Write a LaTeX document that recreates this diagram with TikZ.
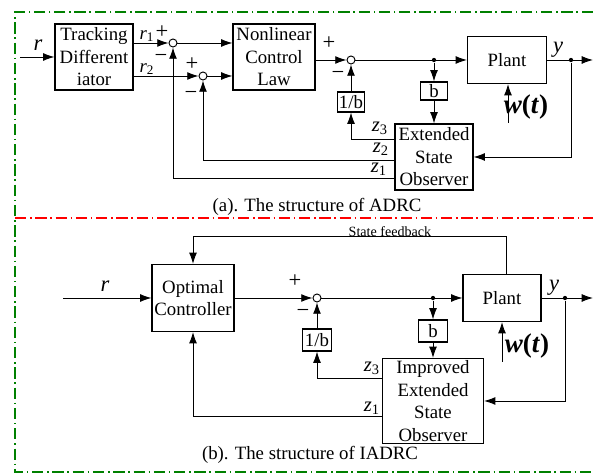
\documentclass[tikz,border=0pt]{standalone}
\usepackage{fontspec}
\setmainfont{Liberation Serif}
\usetikzlibrary{
    calc,
    arrows.meta
}
\begin{document}
\begin{tikzpicture}[x=0.0187cm,y=-0.0187cm,line width=0.5pt,
    >={Latex[length=6pt,width=4.2pt]},
    blk/.style={draw,line width=0.6pt,inner sep=0pt,align=center},
    sumpt/.style={draw,circle,minimum size=0.15cm,inner sep=0pt,fill=white},
    dotpt/.style={circle,fill,minimum size=0.08cm,inner sep=0pt},
    lbl/.style={font=\large\itshape,inner sep=0pt},
    zlbl/.style={font=\fontsize{11}{12}\selectfont\itshape,inner sep=0pt},
    sublbl/.style={font=\itshape,inner sep=0pt},
    sgn/.style={font=\large,inner sep=0pt},
    frame/.style={line width=0.9pt,dash pattern=on 6pt off 2pt on 0.8pt off 2pt}]
\useasboundingbox (0,0) rectangle (593,473);
%\draw [help lines](0,0) grid (593,473);
\draw [frame,green!50!black] (593,12) -- (15,12) -- (15,472) -- (593,472);
\draw [frame,red] (15,218) -- (593,218);
% (a) ADRC
\coordinate (rin) at (20,57);
\node [lbl] (rA) at (38,45) {r};
\node [blk,minimum width=1.459cm,minimum height=1.234cm] (td) at (94,57) {Tracking\\Different\\iator};
\node [sumpt] (s1) at (173,43) {};
\node [sumpt] (s2) at (203,76) {};
\node [blk,minimum width=1.533cm,minimum height=1.234cm] (ncl) at (274,57) {Nonlinear\\Control\\Law};
\node [sumpt] (s3) at (351,60) {};
\node [dotpt] (d1) at (434,60) {};
\node [blk,minimum width=1.477cm,minimum height=0.879cm] (plA) at (507,60) {Plant};
\node [dotpt] (o1) at (571,60) {};
\coordinate (yA) at (593,60);
\node [blk,minimum width=0.505cm,minimum height=0.337cm] (bA) at (434,91) {b};
\node [blk,minimum width=0.505cm,minimum height=0.374cm] (ibA) at (351,102) {1/b};
\node [blk,minimum width=1.459cm,minimum height=1.234cm] (eso) at (434,157) {Extended\\State\\Observer};
\coordinate (wA) at (508,123);
\draw [->] (rin) -- (td);
\draw [->] (td.east |- s1) -- (s1);
\draw [->] (td.east |- s2) -- (s2);
\draw [->] (s1) -- (s1 -| ncl.west);
\draw [->] (s2) -- (s2 -| ncl.west);
\draw [->] (ncl.east |- s3) -- (s3);
\draw [->] (s3) -- (plA);
\draw [->] (plA) -- (yA);
\draw [->] (d1) -- (bA);
\draw [->] (bA) -- (eso);
\draw [->] (ibA) -- (s3);
\draw [->] (eso.west |- 0,139) -| (ibA);
\draw [->] (eso.west |- 0,160) -| (s2);
\draw [->] (eso.west |- 0,178) -| (s1);
\draw [->] (o1) |- (eso);
\draw [->] (wA) -- (wA |- plA.south);
\node [sublbl] (r1) at (147,36) {r\textsubscript{\upshape 1}};
\node [sublbl] (r2) at (147,69) {r\textsubscript{\upshape 2}};
\node [sgn] (p1) at (162,32) {+};
\node [sgn] (m1) at (161,58) {−};
\node [sgn] (p2) at (192,64) {+};
\node [sgn] (m2) at (191,95) {−};
\node [sgn] (p3) at (329,43) {+};
\node [sgn] (m3) at (338,75) {−};
\node [lbl] (yAl) at (558,50) {y};
\node [inner sep=0pt,font=\Large\bfseries] (wAl) at (526,107) {\textit{w}(\textit{t})};
\node [zlbl] (z3A) at (380,128) {z\textsubscript{\upshape 3}};
\node [zlbl] (z2A) at (381,149) {z\textsubscript{\upshape 2}};
\node [zlbl] (z1A) at (379,169) {z\textsubscript{\upshape 1}};
\node [inner sep=0pt] (capA) at (317,207) {(a). The structure of ADRC};
% (b) IADRC
\coordinate (rinB) at (63,298);
\node [lbl] (rB) at (105,286) {r};
\node [blk,minimum width=1.533cm,minimum height=1.253cm] (oc) at (193,298) {Optimal\\Controller};
\node [sumpt] (s4) at (317,298) {};
\node [dotpt] (d2) at (433,298) {};
\node [blk,minimum width=1.459cm,minimum height=0.879cm] (plB) at (502,298) {Plant};
\node [dotpt] (o2) at (565,298) {};
\coordinate (yB) at (593,298);
\node [blk,minimum width=0.542cm,minimum height=0.411cm] (bB) at (433,331) {b};
\node [blk,minimum width=0.542cm,minimum height=0.411cm] (ibB) at (317,340) {1/b};
\node [blk,minimum width=1.889cm,minimum height=1.590cm] (ieso) at (433,401) {Improved\\Extended\\State\\Observer};
\coordinate (wB) at (502,362);
\draw [->] (rinB) -- (oc);
\draw [->] (oc) -- (s4);
\draw [->] (s4) -- (plB);
\draw [->] (plB) -- (yB);
\draw [->] (d2) -- (bB);
\draw [->] (bB) -- (ieso);
\draw [->] (ibB) -- (s4);
\draw [->] (ieso.west |- 0,378) -| (ibB);
\draw [->] (ieso.west |- 0,416) -| (oc);
\draw [->] (o2) |- (ieso);
\draw [->] (wB) -- (wB |- plB.south);
\draw [->] (plB.north -| 506,0) -- ++(0,-37) -| (oc);
\node [inner sep=0pt,font=\fontsize{7.5}{9}\selectfont] (sfb) at (390,232) {State feedback};
\node [sgn] (p4) at (295,281) {+};
\node [sgn] (m4) at (303,313) {−};
\node [lbl] (yBl) at (554,288) {y};
\node [inner sep=0pt,font=\Large\bfseries] (wBl) at (527,346) {\textit{w}(\textit{t})};
\node [zlbl] (z3B) at (372,368) {z\textsubscript{\upshape 3}};
\node [zlbl] (z1B) at (372,408) {z\textsubscript{\upshape 1}};
\node [inner sep=0pt] (capB) at (310,455) {(b). The structure of IADRC};
\end{tikzpicture}
\end{document}
